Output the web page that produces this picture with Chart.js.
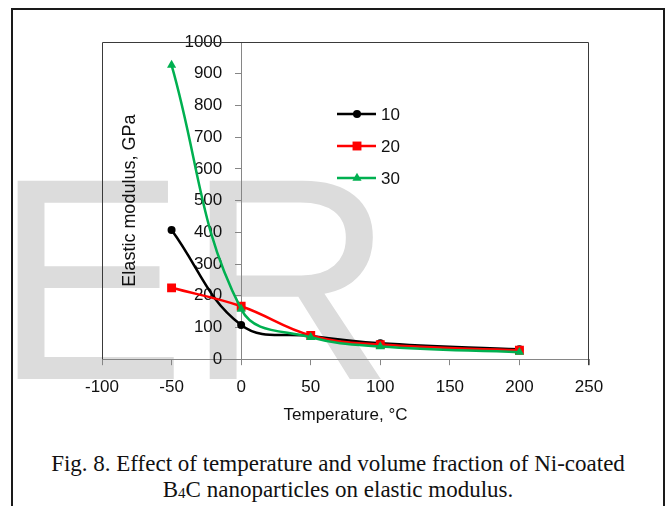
<!DOCTYPE html>
<html>
<head>
<meta charset="utf-8">
<script src="https://cdn.jsdelivr.net/npm/chart.js@4"></script>
<style>
  html, body { margin: 0; padding: 0; background: #fff; }
  body { width: 667px; height: 506px; position: relative; overflow: hidden; }
  #frame { position: absolute; left: 11px; top: 8px; width: 650px; height: 520px; border: 2px solid #1a1a1a; }
  #mark { position: absolute; left: 0; top: 0; }
  #wrap { position: absolute; left: 0; top: 0; width: 667px; height: 440px; }
  #caption { position: absolute; left: 13px; width: 650px; top: 451px; text-align: center;
             font-family: "Liberation Serif", "Times New Roman", serif; font-size: 23px; line-height: 26px; color: #111; }
  #caption sub { font-size: 15px; vertical-align: -1px; }
</style>
</head>
<body>
<div id="frame"></div>
<svg id="mark" width="667" height="506"><text x="-6" y="379" font-family="Liberation Sans, Arial, sans-serif" font-size="288" fill="#dcdcdc">ER</text></svg>
<div id="wrap"><canvas id="chart"></canvas></div>
<div id="caption">Fig. 8. Effect of temperature and volume fraction of Ni-coated<br>B<sub>4</sub>C nanoparticles on elastic modulus.</div>

<script>
// 温度（℃）と体積分率ごとの弾性率（GPa）
const temps = [-50, 0, 50, 100, 200];
const series10 = [407, 108, 73, 50, 31];
const series20 = [225, 167, 75, 46, 28];
const series30 = [927, 158, 69, 40, 22];
const seriesNames = ['10', '20', '30'];
const xTicks = [-100, -50, 0, 50, 100, 150, 200, 250];
const yTicks = [0, 100, 200, 300, 400, 500, 600, 700, 800, 900, 1000];

const FONT = '"Liberation Sans", Arial, sans-serif';

function toPoints(values) {
    return temps.map((t, i) => ({ x: t, y: values[i] }));
}

// 枠線（上・左・右）
const plotFrame = {
    id: 'plotFrame',
    beforeDatasetsDraw(chart) {
        const { left, top, right, bottom } = chart.chartArea;
        const ctx = chart.ctx;
        ctx.save();
        ctx.strokeStyle = '#3a3a3a';
        ctx.lineWidth = 1;
        ctx.beginPath();
        ctx.moveTo(Math.round(left) + 0.5, bottom);
        ctx.lineTo(Math.round(left) + 0.5, Math.round(top) + 0.5);
        ctx.lineTo(Math.round(right) - 0.5, Math.round(top) + 0.5);
        ctx.lineTo(Math.round(right) - 0.5, bottom + 6);
        ctx.stroke();
        ctx.restore();
    }
};

// Y軸タイトル（縦書き）
const yTitle = {
    id: 'yTitle',
    afterDraw(chart) {
        const { top, bottom } = chart.chartArea;
        const ctx = chart.ctx;
        ctx.save();
        ctx.translate(130, (top + bottom) / 2);
        ctx.rotate(-Math.PI / 2);
        ctx.font = '18px ' + FONT;
        ctx.fillStyle = '#111';
        ctx.textAlign = 'center';
        ctx.textBaseline = 'middle';
        ctx.fillText('Elastic modulus, GPa', 0, 0);
        ctx.restore();
    }
};

// 凡例（グラフ内）
const insideLegend = {
    id: 'insideLegend',
    afterDatasetsDraw(chart) {
        const ctx = chart.ctx;
        chart.data.datasets.forEach((ds, i) => {
            const y = 114 + i * 32;
            ctx.save();
            ctx.strokeStyle = ds.borderColor;
            ctx.lineWidth = ds.borderWidth;
            ctx.beginPath();
            ctx.moveTo(337, y);
            ctx.lineTo(376, y);
            ctx.stroke();
            ctx.fillStyle = ds.pointBackgroundColor;
            Chart.helpers.drawPoint(ctx, { pointStyle: ds.pointStyle, radius: ds.pointRadius, rotation: 0, borderWidth: 0 }, 357, y);
            ctx.fillStyle = '#111';
            ctx.font = '17px ' + FONT;
            ctx.textBaseline = 'middle';
            ctx.fillText(ds.label, 381, y + 1);
            ctx.restore();
        });
    }
};

const colors = ['#000000', '#ff0000', '#00b050'];
const styles = ['circle', 'rect', 'triangle'];
const radii = [4, 6.3, 5.3];
const values = [series10, series20, series30];

const ctx = document.getElementById('chart').getContext('2d');
const chart = new Chart(ctx, {
    type: 'line',
    data: {
        datasets: values.map((v, i) => ({
            label: seriesNames[i],
            data: toPoints(v),
            borderColor: colors[i],
            backgroundColor: colors[i],
            pointBackgroundColor: colors[i],
            pointBorderWidth: 0,
            pointStyle: styles[i],
            pointRadius: radii[i],
            borderWidth: 2.5,
            tension: 0.4,
            fill: false,
            order: 3 - i
        }))
    },
    options: {
        responsive: true,
        maintainAspectRatio: false,
        animation: false,
        layout: { padding: { left: 102, right: 78, top: 42, bottom: 12 } },
        plugins: { legend: { display: false }, tooltip: { enabled: false } },
        scales: {
            x: {
                type: 'linear',
                min: xTicks[0],
                max: xTicks[xTicks.length - 1],
                afterBuildTicks: s => { s.ticks = xTicks.map(v => ({ value: v })); },
                grid: { drawOnChartArea: false, color: '#868686', tickLength: 6 },
                border: { color: '#868686' },
                ticks: { color: '#111', font: { family: FONT, size: 17 }, padding: 12 },
                title: { display: true, text: 'Temperature, °C', color: '#111',
                         font: { family: FONT, size: 17 }, padding: { top: -4, bottom: 2 } }
            },
            y: {
                type: 'linear',
                position: { x: 0 },
                min: yTicks[0],
                max: yTicks[yTicks.length - 1],
                afterBuildTicks: s => { s.ticks = yTicks.map(v => ({ value: v })); },
                grid: { drawOnChartArea: false, color: '#868686', tickLength: 6 },
                border: { color: '#868686' },
                ticks: { color: '#111', font: { family: FONT, size: 17 }, callback: v => String(v) + '    ' }
            }
        }
    },
    plugins: [plotFrame, insideLegend, yTitle]
});
</script>
</body>
</html>
